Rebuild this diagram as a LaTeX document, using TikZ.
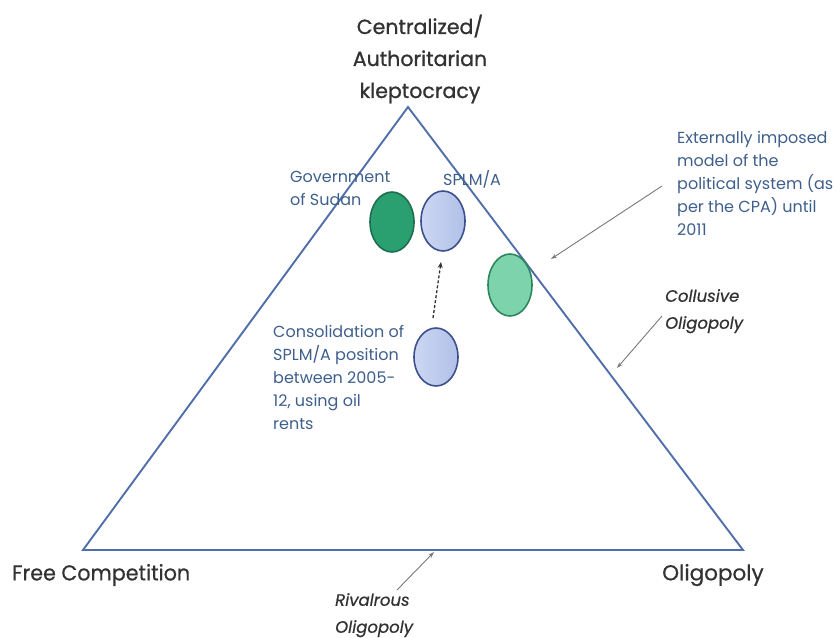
\documentclass[tikz,border=0pt]{standalone}
\usepackage{fontspec}
\setmainfont{Poppins}
\usetikzlibrary{arrows.meta,shapes.geometric}
\definecolor{triblue}{RGB}{79,110,170}
\definecolor{txtblue}{RGB}{62,95,140}
\definecolor{darktxt}{RGB}{50,50,50}
\definecolor{arrgray}{RGB}{120,120,120}
\definecolor{dgreenfill}{RGB}{42,160,112}
\definecolor{dgreenline}{RGB}{30,110,80}
\definecolor{lgreenfill}{RGB}{125,212,172}
\definecolor{lgreenline}{RGB}{45,135,92}
\definecolor{bluefill}{RGB}{176,192,232}
\definecolor{bluelight}{RGB}{205,215,242}
\definecolor{blueline}{RGB}{60,80,140}
\tikzset{
  oval/.style={ellipse, minimum width=44pt, minimum height=60pt, line width=1.6pt, inner sep=0pt},
  blueoval/.style={oval, draw=blueline, left color=bluelight, right color=bluefill},
  bluelbl/.style={text=txtblue, font=\fontsize{16}{23}\selectfont, align=left, inner sep=0pt, anchor=north west},
  topLbl/.style={text=darktxt, font=\fontsize{20.5}{32}\selectfont\addfontfeature{FakeBold=1}, align=center, inner sep=0pt},
  itLbl/.style={text=darktxt, font=\fontsize{16.5}{27}\selectfont\itshape\addfontfeature{FakeBold=0.6}, align=left, inner sep=0pt, anchor=north west},
  cornerLbl/.style={text=darktxt, inner sep=0pt, anchor=west, font=\fontsize{21.5}{24}\selectfont\addfontfeature{FakeBold=0.6}},
  grayarrow/.style={draw=arrgray, line width=0.9pt, -{Stealth[length=6pt,width=4pt]}}
}
\begin{document}
\begin{tikzpicture}[x=1pt,y=-1pt]
\useasboundingbox (0,0) rectangle (835,637);
% triangle
\coordinate (apex) at (408,107);
\coordinate (bl) at (83,550);
\coordinate (br) at (743,550);
\draw[triblue, line width=1.9pt, line join=miter] (apex) -- (br) -- (bl) -- cycle;
% ovals
\node[oval, fill=dgreenfill, draw=dgreenline] (gos) at (392,222) {};
\node[blueoval] (splm) at (443,221) {};
\node[oval, fill=lgreenfill, draw=lgreenline, minimum height=62pt] (ext) at (510,285) {};
\node[blueoval, minimum height=58pt] (cons) at (436,357) {};
% dashed arrow
\coordinate (dstart) at (433,318);
\coordinate (dend) at (441,262);
\draw[darktxt, line width=1.3pt, dash pattern=on 3pt off 2pt, -{Stealth[length=6pt,width=5pt]}] (dstart) -- (dend);
% labels
\node[topLbl] (toplabel) at (420,59) {Centralized/\\Authoritarian\\kleptocracy};
\node[bluelbl] (goslbl) at (290,171) {Government\\of Sudan};
\node[bluelbl] (splmlbl) at (443,170) {SPLM/A};
\node[bluelbl] (extlbl) at (677,131) {Externally imposed\\model of the\\political system (as\\per the CPA) until\\2011};
\node[bluelbl] (conslbl) at (273,325) {Consolidation of\\SPLM/A position\\between 2005-\\12, using oil\\rents};
\node[itLbl] (colllbl) at (665,289) {Collusive\\Oligopoly};
\node[cornerLbl] (freelbl) at (12,575) {\scalebox{0.96}[1]{Free Competition}};
\node[cornerLbl] (oliglbl) at (662,575) {Oligopoly};
\node[itLbl] (rivlbl) at (335,593) {Rivalrous\\Oligopoly};
% gray arrows
\coordinate (e1) at (662,186); \coordinate (e2) at (551,259);
\draw[grayarrow] (e1) -- (e2);
\coordinate (c1) at (662,316); \coordinate (c2) at (617,368);
\draw[grayarrow] (c1) -- (c2);
\coordinate (r1) at (397,590); \coordinate (r2) at (434,552);
\draw[grayarrow] (r1) -- (r2);
\end{tikzpicture}
\end{document}
